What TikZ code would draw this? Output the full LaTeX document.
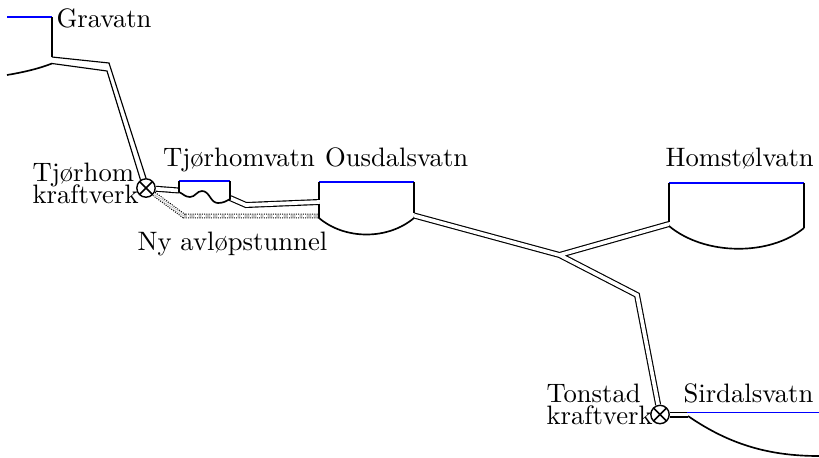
\documentclass[tikz,border=0pt]{standalone}
\usepackage{tikz}
\tikzset{
  wall/.style={line width=0.65pt},
  lake/.style={blue, line width=0.4pt},
  pipeline/.style={line width=0.45pt},
  pipe/.style={double, line width=0.45pt, double distance=1.45pt, line join=miter},
  newpipe/.style={double, dash pattern=on 0.4pt off 0.5pt, line width=0.4pt, double distance=1.1pt},
  turbine/.style={draw, circle, line width=0.55pt, minimum size=7.2pt, inner sep=0pt, fill=white,
    path picture={\draw[line width=0.6pt] (path picture bounding box.north west) -- (path picture bounding box.south east)
      (path picture bounding box.north east) -- (path picture bounding box.south west);}},
  placename/.style={anchor=base west, inner sep=0pt, font=\fontsize{10.45}{12}\selectfont}
}
\begin{document}
\begin{tikzpicture}[x=0.01378cm, y=-0.01378cm]
\useasboundingbox (0,0) rectangle (819,457);

\node[turbine] (tjorhom) at (146,188) {};
\node[turbine] (tonstad) at (660,414.5) {};

\coordinate (gravA) at (52,57);
\coordinate (gravB) at (52,63.5);
\coordinate (tjvL) at (179,190.5);
\coordinate (tjvR) at (230,198);
\coordinate (ousL) at (319,202);
\coordinate (ousN) at (319,216);
\coordinate (ousR) at (414,215.5);
\coordinate (split) at (559.5,255);
\coordinate (homs) at (669,224);
\coordinate (sird) at (688,414.5);

% waterways
\draw[pipeline] (gravA) -- (109,63) -- (tjorhom.90);
\draw[pipeline] (gravB) -- (107,71) -- (tjorhom.124);
\draw[pipe] (tjorhom) -- (tjvL);
\draw[pipe] (tjvR) -- (246,205) -- (ousL);
\draw[newpipe] (tjorhom) -- (184,216) -- (ousN);
\draw[pipe] (ousR) -- (split) -- (homs) (split) -- (637,295) -- (tonstad);
\draw[pipe] (tonstad) -- (sird);

% Gravatn
\draw[lake] (7,17) -- (52,17);
\draw[wall] (52,17) -- (gravA);
\draw[wall] (7,75) .. controls (22,72.5) and (38,69) .. (gravB);

% Tjorhomvatn
\draw[lake] (179,181) -- (230,181);
\draw[wall] (179,181) -- (179,192) to[out=-25, in=180] (190,197) to[out=0, in=180] (202,191)
  to[out=0, in=180] (218,203) to[out=0, in=210] (230,199) -- (230,181);

% Ousdalsvatn
\draw[lake] (319,182) -- (414,182);
\draw[wall] (319,200) -- (319,182) (414,182) -- (414,213);
\draw[wall] (319,204) -- (319,218) .. controls (345,240) and (388,240) .. (414,218);

% Homstolvatn
\draw[lake] (669,183) -- (804,183);
\draw[wall] (669,222) -- (669,183) (804,183) -- (804,228);
\draw[wall] (669,226) .. controls (705,256) and (770,256) .. (804,228);

% Sirdalsvatn
\draw[lake] (687,412) -- (819,412);
\draw[wall] (688,416) .. controls (730,445) and (770,456) .. (819,456);

\node[placename] (gravatn) at (56,27) {Gravatn};
\node[placename] (tjorhomvatn) at (162.5,166) {Tj\o{}rhomvatn};
\node[placename] (ousdalsvatn) at (324.5,166) {Ousdalsvatn};
\node[placename] (homstolvatn) at (665,166) {Homst\o{}lvatn};
\node[placename] (sirdalsvatn) at (683,402) {Sirdalsvatn};
\node[placename] (tunnel) at (137,250) {Ny avl\o{}pstunnel};
\node[placename, align=left] (tjorhomlabel) at (32,203) {Tj\o{}rhom\\[-3.6pt]kraftverk};
\node[placename, align=left] (tonstadlabel) at (546,424) {Tonstad\\[-3.6pt]kraftverk};
\end{tikzpicture}
\end{document}
